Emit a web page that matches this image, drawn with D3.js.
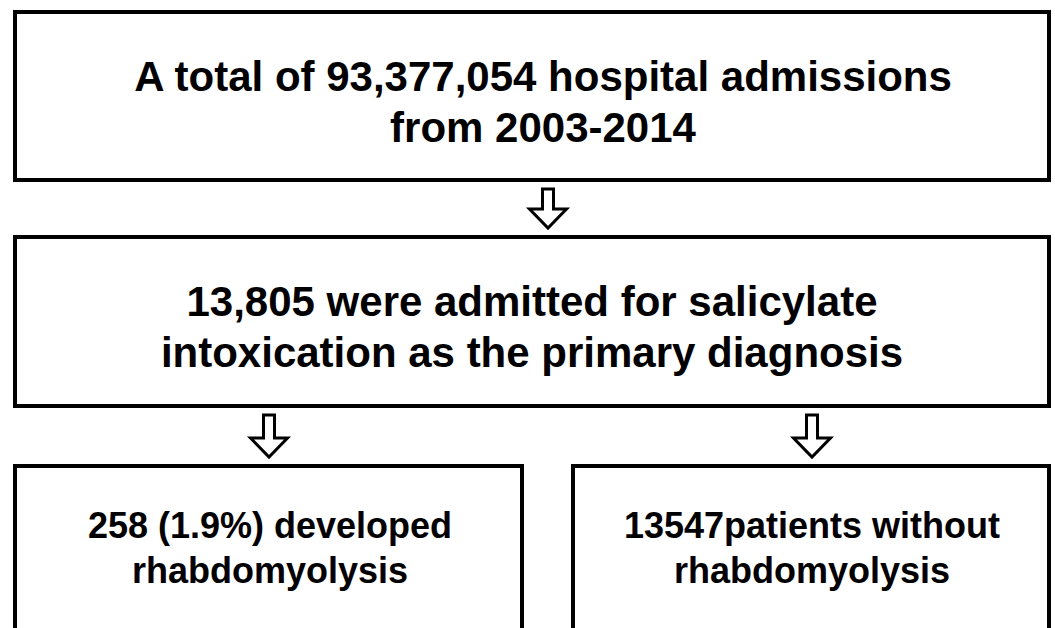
<!DOCTYPE html>
<html>
<head>
<meta charset="utf-8">
<script src="https://cdn.jsdelivr.net/npm/d3@7"></script>
<style>
  body { margin: 0; background: #fff; }
  svg { display: block; }
</style>
</head>
<body>
<div id="chart"></div>
<script>
// flowchart content
var boxNames = ["total", "salicylate", "rhabdo", "noRhabdo"];
var boxLines = [
  ["A total of 93,377,054 hospital admissions", "from 2003-2014"],
  ["13,805 were admitted for salicylate", "intoxication as the primary diagnosis"],
  ["258 (1.9%) developed", "rhabdomyolysis"],
  ["13547patients without", "rhabdomyolysis"]
];
var links = [
  ["total", "salicylate"],
  ["salicylate", "rhabdo"],
  ["salicylate", "noRhabdo"]
];

var W = 1055, H = 628;
var svg = d3.select("#chart").append("svg")
  .attr("width", W).attr("height", H);

// layout
var layout = {
  total:      { x0: 15,  x1: 1049, y0: 12,  y1: 180, fs: 42, base: [91, 142], cx: 543 },
  salicylate: { x0: 15,  x1: 1049, y0: 237, y1: 406, fs: 42, base: [316, 367], cx: 532 },
  rhabdo:     { x0: 15,  x1: 522,  y0: 466, y1: 640, fs: 36, base: [538, 583], cx: 270 },
  noRhabdo:   { x0: 573, x1: 1049, y0: 466, y1: 640, fs: 36, base: [538, 583], cx: 812 }
};
var arrowX = { "total-salicylate": 548, "salicylate-rhabdo": 269, "salicylate-noRhabdo": 812 };

var boxes = boxNames.map(function (n, i) {
  return Object.assign({ name: n, lines: boxLines[i] }, layout[n]);
});

var g = svg.selectAll("g.box").data(boxes).enter()
  .append("g").attr("class", "box");

g.append("rect")
  .attr("x", function (d) { return d.x0; })
  .attr("y", function (d) { return d.y0; })
  .attr("width", function (d) { return d.x1 - d.x0; })
  .attr("height", function (d) { return d.y1 - d.y0; })
  .attr("fill", "#fff")
  .attr("stroke", "#000")
  .attr("stroke-width", 4);

g.each(function (d) {
  d3.select(this).selectAll("text").data(d.lines).enter()
    .append("text")
    .attr("x", d.cx)
    .attr("y", function (t, j) { return d.base[j]; })
    .attr("text-anchor", "middle")
    .attr("font-family", "Liberation Sans, Arial, sans-serif")
    .attr("font-weight", "bold")
    .attr("font-size", d.fs)
    .attr("fill", "#000")
    .text(function (t) { return t; });
});

// hollow block arrows between boxes
var byName = {};
boxes.forEach(function (b) { byName[b.name] = b; });

svg.selectAll("path.arrow").data(links).enter()
  .append("path")
  .attr("class", "arrow")
  .attr("d", function (l) {
    var from = byName[l[0]], to = byName[l[1]];
    var cx = arrowX[l[0] + "-" + l[1]];
    var top = from.y1 + 9, tip = to.y0 - 9;
    var headY = tip - 19, sw = 5.5, hw = 18.5;
    var p = d3.path();
    p.moveTo(cx - sw, top);
    p.lineTo(cx + sw, top);
    p.lineTo(cx + sw, headY);
    p.lineTo(cx + hw, headY);
    p.lineTo(cx, tip);
    p.lineTo(cx - hw, headY);
    p.lineTo(cx - sw, headY);
    p.closePath();
    return p.toString();
  })
  .attr("fill", "#fff")
  .attr("stroke", "#000")
  .attr("stroke-width", 3)
  .attr("stroke-linejoin", "miter");
</script>
</body>
</html>
